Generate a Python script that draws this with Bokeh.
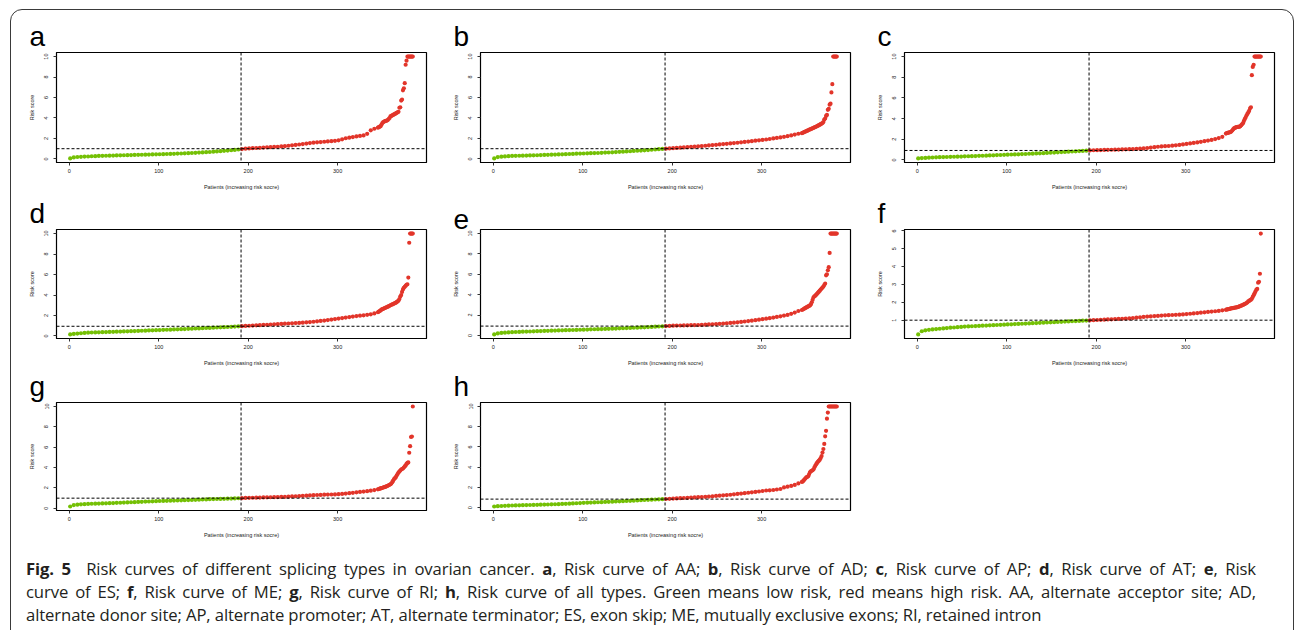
from bokeh.plotting import figure
from bokeh.layouts import column, row
from bokeh.models import Span, FixedTicker, Range1d, Div, Spacer, ColumnDataSource
from bokeh.embed import file_html
from bokeh.resources import INLINE

# ---------------- data ----------------
N_PATIENTS = 384
CUT_PATIENT = 192
# patient ranks that are drawn (every 4th rank in the flat part, every rank in the tail)
patients = list(range(1, 345, 4)) + list(range(345, 385))

risk_a = [
    0.05, 0.15, 0.19, 0.21, 0.23, 0.24, 0.26, 0.27, 0.29, 0.30,
    0.31, 0.32, 0.33, 0.34, 0.35, 0.36, 0.37, 0.38, 0.39, 0.40,
    0.41, 0.42, 0.43, 0.44, 0.45, 0.46, 0.47, 0.48, 0.49, 0.50,
    0.52, 0.53, 0.55, 0.56, 0.58, 0.60, 0.62, 0.64, 0.66, 0.68,
    0.71, 0.73, 0.76, 0.79, 0.82, 0.85, 0.88, 0.92, 0.96, 1.00,
    1.03, 1.05, 1.07, 1.09, 1.11, 1.13, 1.15, 1.17, 1.19, 1.22,
    1.25, 1.29, 1.33, 1.37, 1.41, 1.45, 1.50, 1.55, 1.59, 1.62,
    1.65, 1.68, 1.71, 1.74, 1.77, 1.82, 1.92, 2.02, 2.08, 2.14,
    2.20, 2.25, 2.30, 2.45, 2.80, 2.95,
    3.05, 3.10, 3.15, 3.20, 3.35, 3.50, 3.60, 3.65, 3.70, 3.72,
    3.75, 3.80, 3.90, 4.00, 4.15, 4.20, 4.25, 4.30, 4.35, 4.40,
    4.45, 4.50, 4.55, 4.60, 5.00, 5.05, 5.70, 5.80, 6.70, 6.90,
    7.40, 9.20, 9.60, 10.0, 10.0, 10.0, 10.0, 10.0, 10.0, 10.0]

risk_b = [
    0.05, 0.18, 0.22, 0.25, 0.27, 0.29, 0.30, 0.31, 0.32, 0.33,
    0.34, 0.35, 0.36, 0.38, 0.39, 0.40, 0.42, 0.43, 0.44, 0.45,
    0.47, 0.48, 0.49, 0.51, 0.52, 0.53, 0.55, 0.56, 0.57, 0.58,
    0.60, 0.62, 0.63, 0.65, 0.67, 0.69, 0.71, 0.73, 0.75, 0.78,
    0.80, 0.82, 0.84, 0.87, 0.90, 0.92, 0.95, 0.98, 1.00, 1.03,
    1.05, 1.08, 1.10, 1.12, 1.15, 1.18, 1.20, 1.23, 1.26, 1.29,
    1.32, 1.35, 1.38, 1.42, 1.45, 1.48, 1.52, 1.55, 1.58, 1.62,
    1.66, 1.70, 1.74, 1.78, 1.82, 1.86, 1.90, 1.95, 2.00, 2.05,
    2.10, 2.16, 2.22, 2.30, 2.38, 2.46,
    2.52, 2.56, 2.60, 2.64, 2.68, 2.72, 2.76, 2.80, 2.85, 2.88,
    2.92, 2.96, 3.00, 3.04, 3.08, 3.12, 3.16, 3.20, 3.25, 3.30,
    3.35, 3.40, 3.45, 3.50, 3.60, 3.85, 3.95, 4.20, 4.30, 4.80,
    4.90, 5.30, 5.40, 6.50, 7.30, 10.0, 10.0, 10.0, 10.0, 10.0]

risk_c = [
    0.15, 0.18, 0.20, 0.22, 0.24, 0.26, 0.27, 0.28, 0.29, 0.30,
    0.31, 0.32, 0.33, 0.35, 0.36, 0.37, 0.38, 0.40, 0.41, 0.42,
    0.44, 0.45, 0.47, 0.48, 0.50, 0.51, 0.53, 0.54, 0.55, 0.57,
    0.58, 0.60, 0.61, 0.63, 0.64, 0.66, 0.68, 0.70, 0.72, 0.74,
    0.76, 0.78, 0.80, 0.82, 0.84, 0.86, 0.88, 0.90, 0.92, 0.94,
    0.95, 0.96, 0.97, 0.98, 0.99, 1.00, 1.01, 1.02, 1.03, 1.04,
    1.05, 1.07, 1.09, 1.12, 1.16, 1.20, 1.24, 1.28, 1.31, 1.33,
    1.35, 1.38, 1.42, 1.46, 1.50, 1.55, 1.60, 1.65, 1.70, 1.76,
    1.82, 1.88, 1.94, 2.02, 2.12, 2.24,
    2.55, 2.60, 2.62, 2.64, 2.68, 2.70, 2.75, 2.85, 2.95, 3.05,
    3.10, 3.15, 3.18, 3.20, 3.20, 3.22, 3.25, 3.35, 3.45, 3.55,
    3.75, 3.95, 4.10, 4.30, 4.45, 4.60, 4.75, 5.00, 5.10, 8.20,
    9.00, 9.20, 10.0, 10.0, 10.0, 10.0, 10.0, 10.0, 10.0, 10.0]

risk_d = [
    0.15, 0.20, 0.24, 0.27, 0.30, 0.32, 0.34, 0.35, 0.36, 0.37,
    0.38, 0.40, 0.41, 0.42, 0.43, 0.45, 0.46, 0.47, 0.48, 0.50,
    0.51, 0.52, 0.54, 0.55, 0.57, 0.58, 0.60, 0.61, 0.62, 0.64,
    0.65, 0.67, 0.68, 0.70, 0.71, 0.73, 0.74, 0.76, 0.78, 0.79,
    0.81, 0.83, 0.85, 0.86, 0.88, 0.90, 0.92, 0.94, 0.96, 0.98,
    1.00, 1.02, 1.04, 1.06, 1.08, 1.10, 1.12, 1.14, 1.16, 1.18,
    1.20, 1.22, 1.24, 1.26, 1.28, 1.30, 1.33, 1.36, 1.39, 1.43,
    1.47, 1.51, 1.55, 1.60, 1.65, 1.70, 1.75, 1.80, 1.85, 1.90,
    1.94, 1.98, 2.02, 2.07, 2.12, 2.20,
    2.32, 2.38, 2.44, 2.50, 2.58, 2.62, 2.66, 2.70, 2.74, 2.78,
    2.82, 2.86, 2.90, 2.95, 3.00, 3.05, 3.08, 3.12, 3.16, 3.20,
    3.25, 3.30, 3.38, 3.45, 3.60, 3.85, 4.00, 4.30, 4.55, 4.70,
    4.80, 4.90, 5.00, 5.05, 5.70, 9.10, 10.0, 10.0, 10.0, 10.0]

risk_e = [
    0.10, 0.20, 0.25, 0.28, 0.30, 0.32, 0.34, 0.35, 0.37, 0.38,
    0.39, 0.41, 0.42, 0.43, 0.45, 0.46, 0.47, 0.48, 0.50, 0.51,
    0.52, 0.53, 0.54, 0.55, 0.56, 0.57, 0.58, 0.60, 0.61, 0.62,
    0.63, 0.64, 0.65, 0.67, 0.68, 0.70, 0.71, 0.73, 0.74, 0.76,
    0.77, 0.79, 0.80, 0.82, 0.84, 0.86, 0.88, 0.90, 0.92, 0.94,
    0.96, 0.97, 0.98, 0.99, 1.00, 1.01, 1.02, 1.03, 1.04, 1.06,
    1.08, 1.10, 1.12, 1.14, 1.17, 1.20, 1.23, 1.26, 1.29, 1.33,
    1.37, 1.41, 1.45, 1.50, 1.55, 1.60, 1.65, 1.70, 1.76, 1.82,
    1.88, 1.95, 2.02, 2.12, 2.25, 2.40,
    2.50, 2.55, 2.60, 2.65, 2.70, 2.75, 2.80, 2.85, 2.90, 2.95,
    3.05, 3.25, 3.50, 3.75, 3.85, 3.90, 4.00, 4.10, 4.20, 4.30,
    4.40, 4.50, 4.60, 4.70, 4.80, 4.95, 5.10, 5.90, 6.00, 6.40,
    6.70, 8.10, 10.0, 10.0, 10.0, 10.0, 10.0, 10.0, 10.0, 10.0]

risk_f = [
    0.20, 0.38, 0.43, 0.46, 0.48, 0.50, 0.52, 0.54, 0.56, 0.58,
    0.59, 0.61, 0.62, 0.64, 0.65, 0.66, 0.67, 0.68, 0.69, 0.70,
    0.71, 0.72, 0.73, 0.74, 0.75, 0.76, 0.77, 0.78, 0.79, 0.80,
    0.81, 0.82, 0.83, 0.84, 0.85, 0.86, 0.87, 0.88, 0.89, 0.90,
    0.91, 0.92, 0.93, 0.94, 0.95, 0.96, 0.97, 0.98, 0.99, 1.00,
    1.01, 1.02, 1.03, 1.04, 1.05, 1.06, 1.07, 1.08, 1.09, 1.10,
    1.12, 1.14, 1.16, 1.18, 1.20, 1.21, 1.23, 1.24, 1.26, 1.27,
    1.28, 1.29, 1.30, 1.31, 1.32, 1.34, 1.36, 1.38, 1.40, 1.42,
    1.44, 1.46, 1.48, 1.50, 1.52, 1.55,
    1.58, 1.60, 1.61, 1.62, 1.63, 1.65, 1.66, 1.67, 1.68, 1.69,
    1.70, 1.71, 1.72, 1.73, 1.75, 1.77, 1.79, 1.81, 1.83, 1.85,
    1.88, 1.90, 1.93, 1.96, 2.00, 2.05, 2.08, 2.12, 2.15, 2.20,
    2.30, 2.40, 2.50, 2.60, 2.70, 2.75, 3.10, 3.15, 3.60, 5.85]

risk_g = [
    0.16, 0.30, 0.34, 0.37, 0.39, 0.41, 0.43, 0.44, 0.45, 0.46,
    0.47, 0.49, 0.50, 0.52, 0.53, 0.55, 0.56, 0.58, 0.59, 0.61,
    0.62, 0.64, 0.65, 0.67, 0.68, 0.70, 0.71, 0.72, 0.73, 0.74,
    0.75, 0.77, 0.78, 0.79, 0.80, 0.82, 0.83, 0.85, 0.86, 0.88,
    0.89, 0.90, 0.91, 0.92, 0.93, 0.94, 0.95, 0.97, 0.98, 1.00,
    1.01, 1.02, 1.03, 1.04, 1.05, 1.06, 1.07, 1.08, 1.09, 1.10,
    1.11, 1.13, 1.15, 1.17, 1.19, 1.21, 1.23, 1.25, 1.27, 1.29,
    1.30, 1.32, 1.33, 1.34, 1.35, 1.37, 1.40, 1.43, 1.47, 1.51,
    1.55, 1.59, 1.63, 1.67, 1.72, 1.78,
    1.85, 1.88, 1.91, 1.94, 1.97, 2.00, 2.03, 2.06, 2.09, 2.12,
    2.16, 2.20, 2.25, 2.30, 2.35, 2.42, 2.55, 2.70, 2.85, 2.95,
    3.05, 3.20, 3.35, 3.50, 3.60, 3.70, 3.80, 3.85, 3.90, 4.00,
    4.10, 4.20, 4.35, 4.45, 4.50, 5.45, 6.10, 7.00, 7.05, 10.0]

risk_h = [
    0.12, 0.15, 0.17, 0.19, 0.20, 0.22, 0.23, 0.24, 0.25, 0.26,
    0.27, 0.28, 0.29, 0.30, 0.31, 0.32, 0.33, 0.34, 0.35, 0.37,
    0.38, 0.40, 0.42, 0.44, 0.46, 0.48, 0.50, 0.51, 0.52, 0.54,
    0.55, 0.57, 0.58, 0.60, 0.62, 0.63, 0.65, 0.67, 0.68, 0.70,
    0.72, 0.74, 0.76, 0.78, 0.79, 0.81, 0.83, 0.84, 0.86, 0.88,
    0.90, 0.92, 0.94, 0.96, 0.98, 1.00, 1.02, 1.04, 1.06, 1.08,
    1.10, 1.13, 1.16, 1.19, 1.22, 1.25, 1.28, 1.32, 1.36, 1.40,
    1.44, 1.48, 1.52, 1.56, 1.60, 1.65, 1.70, 1.72, 1.75, 1.80,
    1.85, 2.00, 2.08, 2.15, 2.25, 2.40,
    2.55, 2.60, 2.70, 2.80, 2.90, 3.00, 3.05, 3.10, 3.30, 3.50,
    3.60, 3.65, 3.70, 3.80, 4.00, 4.15, 4.30, 4.45, 4.55, 4.65,
    4.75, 4.90, 5.10, 5.45, 5.80, 6.30, 7.05, 7.60, 8.80, 9.40,
    10.0, 10.0, 10.0, 10.0, 10.0, 10.0, 10.0, 10.0, 10.0, 10.0]

panel_labels = ["a", "b", "c", "d", "e", "f", "g", "h"]
panel_risks = [risk_a, risk_b, risk_c, risk_d, risk_e, risk_f, risk_g, risk_h]
cutoffs = [1.00, 1.00, 0.92, 0.95, 0.92, 1.00, 0.98, 0.85]
x_ticks = [0, 100, 200, 300]
y_ticks = [0, 2, 4, 6, 8, 10]
y_ticks_f = [1, 2, 3, 4, 5, 6]

caption_lines = [
    "<b>Fig. 5</b>&nbsp;&nbsp;Risk curves of different splicing types in ovarian cancer. "
    "<b>a</b>, Risk curve of AA; <b>b</b>, Risk curve of AD; <b>c</b>, Risk curve of AP; "
    "<b>d</b>, Risk curve of AT; <b>e</b>, Risk",
    "curve of ES; <b>f</b>, Risk curve of ME; <b>g</b>, Risk curve of RI; <b>h</b>, Risk curve of all types. "
    "Green means low risk, red means high risk. AA, alternate acceptor site; AD,",
    "alternate donor site; AP, alternate promoter; AT, alternate terminator; ES, exon skip; "
    "ME, mutually exclusive exons; RI, retained intron",
]

LOW_COLOR = "#74C005"
HIGH_COLOR = "#E2352A"
AXIS_FONT = "Liberation Sans"

# ---------------- panels ----------------
def make_panel(label, vals, cutoff, ticks, frame_h, top_border):
    assert len(vals) == len(patients)
    span_x = N_PATIENTS - 1
    x_range = Range1d(1 - 0.04 * span_x, N_PATIENTS + 0.04 * span_x)
    lo, hi = min(vals), max(vals)
    pad = 0.04 * (hi - lo)
    y_range = Range1d(lo - pad, hi + pad)
    p = figure(frame_width=370, frame_height=frame_h, x_range=x_range, y_range=y_range,
               output_backend="svg", toolbar_location=None,
               min_border_left=45, min_border_right=9,
               min_border_top=top_border, min_border_bottom=30)
    colors = [LOW_COLOR if pt <= CUT_PATIENT else HIGH_COLOR for pt in patients]
    src = ColumnDataSource(dict(x=patients, y=vals, c=colors))
    p.scatter("x", "y", source=src, size=4.2, fill_color="c", line_color=None)
    p.add_layout(Span(location=CUT_PATIENT, dimension="height", line_color="black",
                      line_width=1, line_dash="3 2"))
    p.add_layout(Span(location=cutoff, dimension="width", line_color="black",
                      line_width=1, line_dash="3 2"))
    p.xgrid.visible = False
    p.ygrid.visible = False
    p.outline_line_color = "black"
    p.outline_line_alpha = 1.0
    p.outline_line_width = 1.2
    p.background_fill_color = "white"
    p.border_fill_color = "white"

    p.title.text = label
    p.title.text_font = AXIS_FONT
    p.title.text_font_size = "28px"
    p.title.text_font_style = "normal"
    p.title.text_color = "black"
    p.title.align = "left"
    p.title.offset = -27
    p.title.standoff = 1

    p.xaxis.ticker = FixedTicker(ticks=x_ticks)
    p.yaxis.ticker = FixedTicker(ticks=ticks)
    p.xaxis.axis_label = "Patients (increasing risk socre)"
    p.yaxis.axis_label = "Risk score"
    p.yaxis.major_label_orientation = "vertical"
    for ax in (p.xaxis[0], p.yaxis[0]):
        ax.major_label_text_font = AXIS_FONT
        ax.axis_label_text_font = AXIS_FONT
        ax.major_label_text_font_size = "5.5px"
        ax.axis_label_text_font_size = "5.5px"
        ax.axis_label_text_font_style = "normal"
        ax.major_label_text_color = "#222222"
        ax.axis_label_text_color = "#222222"
        ax.major_tick_in = 0
        ax.major_tick_out = 3
        ax.major_tick_line_color = "#333333"
        ax.minor_tick_line_color = None
        ax.axis_line_color = "black"
    p.xaxis.major_label_standoff = 3
    p.xaxis.axis_label_standoff = 8
    p.yaxis.major_label_standoff = 5
    p.yaxis.axis_label_standoff = 7
    return p

frame_heights = [110, 110, 110, 109, 109, 109, 108, 108]
top_borders = [42, 42, 42, 37, 37, 37, 32, 32]
panels = []
for i, lab in enumerate(panel_labels):
    t = y_ticks_f if lab == "f" else y_ticks
    panels.append(make_panel(lab, panel_risks[i], cutoffs[i], t, frame_heights[i], top_borders[i]))

just = "text-align:justify;text-align-last:justify;"
caption_html = (
    "<div style=\"position:fixed;left:10px;top:9px;width:1284px;height:640px;"
    "border:1.3px solid #3a3a3a;border-radius:12px;pointer-events:none;box-sizing:border-box\"></div>"
    "<div style=\"font-family:'Open Sans',sans-serif;font-size:16.7px;line-height:23px;"
    "color:#231f20;padding:12px 0 0 10px;letter-spacing:-0.12px;width:1240px\">"
    + "<div style=\"" + just + "\">" + caption_lines[0] + "</div>"
    + "<div style=\"" + just + "\">" + caption_lines[1] + "</div>"
    + "<div style=\"white-space:nowrap\">" + caption_lines[2] + "</div>"
    + "</div>"
)
caption = Div(text=caption_html, width=1272, height=89)

layout = column(
    row(panels[0], panels[1], panels[2]),
    row(panels[3], panels[4], panels[5]),
    row(panels[6], panels[7], Spacer(width=424, height=10)),
    caption,
    styles={"margin": "10px 0 0 11px", "background": "white"},
)

open("out.html", "w").write(file_html(layout, INLINE))
